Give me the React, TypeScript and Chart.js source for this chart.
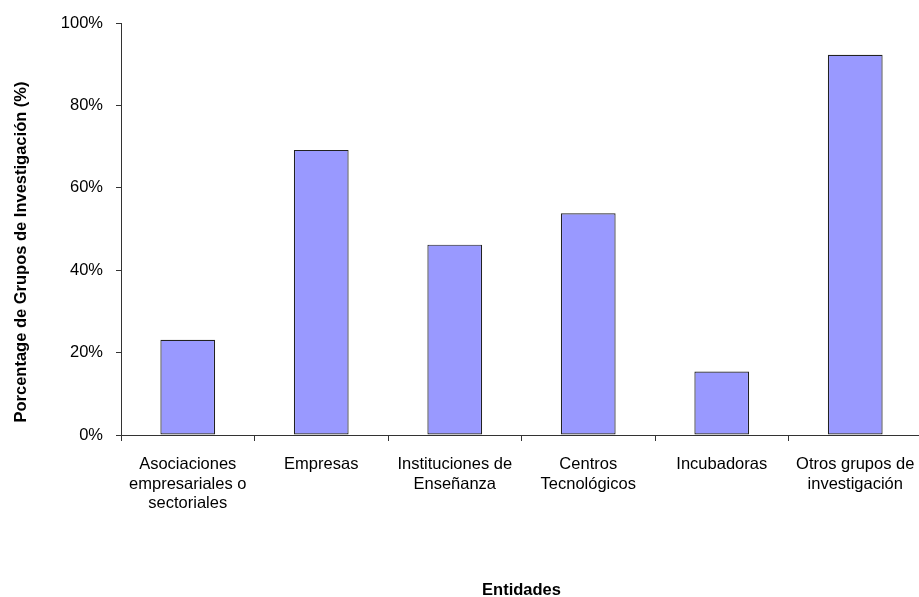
import React, { useEffect, useRef } from "react";
import { Chart, registerables } from "chart.js";

Chart.register(...registerables);

const categories: string[][] = [
  ["Asociaciones", "empresariales o", "sectoriales"],
  ["Empresas"],
  ["Instituciones de", "Enseñanza"],
  ["Centros", "Tecnológicos"],
  ["Incubadoras"],
  ["Otros grupos de", "investigación"],
];

// Share of research groups (%) collaborating with each type of entity
const percentages: number[] = [23.1, 69.2, 46.2, 53.8, 15.4, 92.3];

const yTicks: number[] = [0, 20, 40, 60, 80, 100];

const yTitle = "Porcentage de Grupos de Investigación (%)";
const xTitle = "Entidades";

const FONT = "Arial, 'Liberation Sans', sans-serif";

// Draws the rotated y-axis caption beside the value axis
const yCaptionPlugin = {
  id: "yCaption",
  afterDraw(chart: any) {
    const ctx = chart.ctx;
    ctx.save();
    ctx.translate(21, 252);
    ctx.rotate(-Math.PI / 2);
    ctx.font = `bold 16.5px ${FONT}`;
    ctx.fillStyle = "#000";
    ctx.textAlign = "center";
    ctx.textBaseline = "middle";
    ctx.fillText(yTitle, 0, 0);
    ctx.restore();
  },
};

export default function App() {
  const canvasRef = useRef<HTMLCanvasElement | null>(null);

  useEffect(() => {
    if (!canvasRef.current) return;
    const chart = new Chart(canvasRef.current, {
      type: "bar",
      data: {
        labels: categories,
        datasets: [
          {
            data: percentages,
            backgroundColor: "#9999FF",
            borderColor: "#222",
            borderWidth: 1.2,
            borderSkipped: false,
            barPercentage: 0.41,
            categoryPercentage: 1,
          },
        ],
      },
      options: {
        responsive: false,
        animation: false,
        layout: { padding: { top: 23, right: 3, left: 0, bottom: 0 } },
        plugins: {
          legend: { display: false },
          tooltip: { enabled: false },
        },
        scales: {
          x: {
            offset: true,
            grid: {
              display: true,
              offset: true,
              drawOnChartArea: false,
              drawTicks: true,
              tickLength: 6,
              color: "#333",
            },
            border: { display: true, color: "#333", width: 1 },
            ticks: {
              color: "#000",
              font: { family: FONT, size: 16.5, lineHeight: 1.18 },
              padding: 14,
              maxRotation: 0,
              autoSkip: false,
            },
            title: {
              display: true,
              text: xTitle,
              color: "#000",
              font: { family: FONT, size: 16.5, weight: "bold", lineHeight: 1 },
              padding: { top: 0, bottom: -2 },
            },
            afterFit: (scale: any) => {
              scale.height = 597 - 435;
              scale.paddingLeft = 0;
              scale.paddingRight = 0;
            },
          },
          y: {
            min: 0,
            max: 100,
            afterBuildTicks: (scale: any) => {
              scale.ticks = yTicks.map((v) => ({ value: v }));
            },
            grid: {
              display: true,
              drawOnChartArea: false,
              drawTicks: true,
              tickLength: 5,
              color: "#333",
            },
            border: { display: true, color: "#333", width: 1 },
            ticks: {
              color: "#000",
              font: { family: FONT, size: 16.5 },
              padding: 13,
              callback: (v: any) => `${v}%`,
            },
            afterFit: (scale: any) => {
              scale.width = 121;
            },
          },
        },
      },
      plugins: [yCaptionPlugin],
    });
    return () => chart.destroy();
  }, []);

  return (
    <div
      style={{
        position: "fixed",
        left: 0,
        top: 0,
        width: 919,
        height: 597,
        overflow: "hidden",
        background: "#fff",
      }}
    >
      <canvas ref={canvasRef} width={925} height={597} style={{ display: "block" }} />
    </div>
  );
}
